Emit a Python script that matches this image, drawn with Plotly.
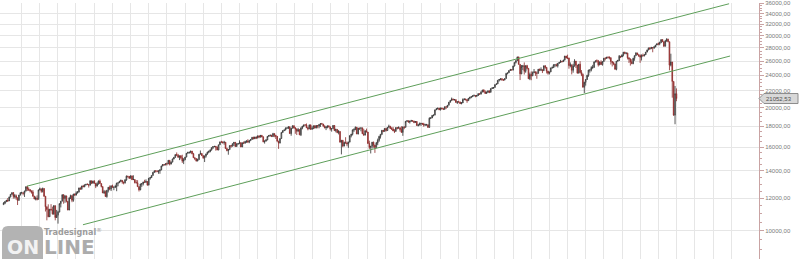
import math
import pandas as pd
import plotly.graph_objects as go

# ---------------- data (weekly candles, Dow Jones Industrial Average) ----------------
first_week = "2011-01-03"
first_open = 11577.51

closes_2011 = [11674, 11787, 11871, 11823, 12092, 12273, 12391, 12130, 12170, 12044,
               11858, 12221, 12377, 12380, 12342, 12505, 12810, 12638, 12596, 12512,
               12441, 12151, 11952, 12004, 11934, 12582, 12657, 12480, 12681, 12143,
               11444, 11269, 10817, 11284, 11240, 10992, 11509, 10771, 10913, 11103,
               11644, 11808, 12231, 11983, 12153, 11796, 11231, 12019, 12184, 11866,
               12294, 12218]
highs_2011 = [11742, 11793, 11876, 12020, 12105, 12285, 12400, 12420, 12290, 12260,
              12050, 12230, 12420, 12450, 12390, 12520, 12830, 12876, 12760, 12640,
              12550, 12570, 12160, 12120, 12200, 12600, 12750, 12660, 12750, 12690,
              12150, 11450, 11600, 11300, 11610, 11450, 11550, 11520, 11240, 11180,
              11660, 11810, 12280, 12290, 12230, 12190, 11800, 12070, 12250, 12190,
              12300, 12330]
lows_2011 = [11577, 11610, 11740, 11760, 11840, 12060, 12240, 11980, 11990, 11900,
             11555, 11850, 12200, 12320, 12200, 12090, 12470, 12500, 12500, 12400,
             12320, 12100, 11940, 11860, 11860, 11930, 12550, 12380, 12400, 12100,
             11140, 10600, 10790, 10850, 11200, 10950, 10930, 10600, 10740, 10404,
             11100, 11400, 11800, 11640, 11700, 11730, 11230, 11250, 11950, 11740,
             11770, 12170]

closes_2012 = [12360, 12422, 12720, 12660, 12862, 12801, 12950, 12983, 12978, 12922,
               13233, 13081, 13212, 13060, 12850, 13029, 13228, 13038, 12821, 12369,
               12455, 12119, 12554, 12767, 12640, 12880, 12772, 12777, 12823, 13075,
               13096, 13207, 13275, 13157, 13090, 13306, 13593, 13579, 13437, 13610,
               13328, 13343, 13107, 13093, 12815, 12588, 13010, 13026, 13155, 13135,
               13190, 12938]
highs_2012 = [12480, 12500, 12740, 12760, 12870, 12940, 12960, 13010, 13050, 12980,
              13290, 13270, 13260, 13290, 13060, 13130, 13260, 13340, 13040, 12830,
              12580, 12540, 12580, 12790, 12900, 12890, 12960, 12800, 12950, 13090,
              13110, 13240, 13330, 13290, 13170, 13370, 13650, 13610, 13580, 13660,
              13650, 13660, 13350, 13300, 13290, 12840, 13020, 13070, 13170, 13320,
              13350, 13200]
lows_2012 = [12200, 12330, 12420, 12580, 12590, 12790, 12780, 12900, 12930, 12750,
             12900, 13000, 13020, 13030, 12710, 12840, 12960, 13020, 12760, 12360,
             12300, 12100, 12040, 12400, 12560, 12500, 12740, 12560, 12710, 12490,
             12840, 13080, 13160, 13030, 12980, 13040, 13250, 13480, 13380, 13420,
             13300, 13320, 13050, 13060, 12810, 12470, 12560, 12800, 12900, 13110,
             13090, 12880]

closes_2013 = [13435, 13488, 13650, 13896, 14010, 13993, 13981, 14001, 14090, 14397,
               14515, 14512, 14579, 14565, 14865, 14547, 14712, 14974, 15118, 15354,
               15303, 15116, 15248, 15070, 14800, 14910, 15136, 15464, 15543, 15559,
               15659, 15426, 15081, 15010, 14810, 14922, 15376, 15452, 15258, 15073,
               15237, 15400, 15570, 15615, 15761, 15962, 16065, 16086, 16020, 15755,
               16221, 16479]
highs_2013 = [13460, 13510, 13660, 13900, 14020, 14010, 14030, 14020, 14100, 14410,
              14540, 14530, 14590, 14680, 14890, 14870, 14770, 15010, 15120, 15360,
              15540, 15410, 15260, 15300, 15340, 15050, 15150, 15480, 15590, 15570,
              15670, 15660, 15500, 15110, 15030, 15010, 15390, 15710, 15460, 15290,
              15260, 15430, 15600, 15710, 15800, 15980, 16070, 16100, 16090, 16070,
              16230, 16530]
lows_2013 = [12900, 13330, 13450, 13640, 13850, 13880, 13900, 13780, 13780, 14050,
             14370, 14400, 14440, 14440, 14560, 14440, 14550, 14700, 14950, 15080,
             15250, 15100, 14880, 14940, 14650, 14550, 14880, 15130, 15440, 15430,
             15460, 15380, 15070, 14880, 14760, 14780, 14930, 15380, 15230, 14990,
             14720, 15100, 15340, 15480, 15550, 15700, 15840, 16000, 15700, 15740,
             15730, 16220]

closes_2014 = [16470, 16437, 16459, 15880, 15699, 15794, 16154, 16104, 16322, 16453,
               16066, 16303, 16323, 16413, 16027, 16409, 16361, 16513, 16584, 16491,
               16607, 16717, 16924, 16776, 16948, 16852, 17068, 16944, 17100, 16961,
               16493, 16554, 16662, 17001, 17098, 17137, 16988, 17280, 17113, 17010,
               16544, 16380, 16805, 17391, 17573, 17635, 17810, 17828, 17958, 17281,
               17805, 18053]
highs_2014 = [16590, 16540, 16590, 16470, 15960, 15810, 16160, 16180, 16340, 16480,
              16460, 16360, 16370, 16630, 16460, 16420, 16530, 16590, 16600, 16740,
              16620, 16720, 16930, 16970, 16980, 16990, 17070, 17070, 17150, 17150,
              17020, 16630, 16750, 17050, 17120, 17150, 17130, 17350, 17280, 17120,
              17040, 16600, 16820, 17400, 17580, 17660, 17890, 17900, 17990, 17960,
              17810, 18100]
lows_2014 = [16420, 16320, 16230, 15870, 15640, 15340, 15790, 15960, 16060, 16100,
             16040, 16060, 16240, 16320, 16010, 16020, 16330, 16350, 16400, 16380,
             16370, 16590, 16690, 16730, 16760, 16750, 16830, 16830, 16900, 16920,
             16460, 16330, 16540, 16670, 16990, 16990, 16950, 16960, 16930, 16760,
             16540, 15855, 16360, 16800, 17350, 17520, 17600, 17780, 17730, 17270,
             17070, 17790]

closes_2015 = [17833, 17737, 17511, 17673, 17165, 17825, 18019, 18141, 18133, 17857,
               17750, 18128, 17713, 17763, 18058, 17826, 18081, 18025, 18191, 18273,
               18232, 18011, 17849, 17899, 18016, 17947, 17731, 17760, 18086, 17569,
               17690, 17373, 17477, 16460, 16643, 16102, 16433, 16385, 16315, 16472,
               17084, 17216, 17647, 17664, 17910, 17245, 17824, 17798, 17848, 17265,
               17128, 17553]
highs_2015 = [18100, 17920, 17770, 17840, 17690, 17900, 18030, 18150, 18230, 18290,
              17950, 18190, 18200, 17990, 18070, 18110, 18120, 18130, 18200, 18290,
              18350, 18240, 18110, 18050, 18100, 18130, 17960, 17790, 18130, 18120,
              17760, 17710, 17630, 17510, 16650, 16650, 16520, 16930, 16530, 16500,
              17100, 17250, 17680, 17800, 17980, 17920, 17840, 17850, 17880, 17850,
              17750, 17610]
lows_2015 = [17780, 17260, 17140, 17470, 17130, 17040, 17700, 17930, 18080, 17830,
             17600, 17720, 17630, 17680, 17740, 17790, 17820, 17800, 17800, 17940,
             18210, 17990, 17800, 17620, 17800, 17900, 17580, 17470, 17770, 17560,
             17400, 17320, 17200, 16450, 15370, 16000, 16100, 16340, 16090, 15940,
             16460, 16910, 17100, 17450, 17630, 17230, 17200, 17630, 17500, 17250,
             17100, 17140]

closes_2016 = [17425, 16347, 15988, 16094, 16466, 16205, 15974, 16392, 16640, 17007,
               17213, 17602, 17516, 17793, 17577, 17898, 18004, 17774, 17740, 17535,
               17501, 17873, 17807, 17865, 17675, 17401, 17949, 17896, 18517, 18571,
               18432, 18543, 18576, 18553, 18395, 18492, 18085, 18124, 18261, 18308,
               18240, 18138, 18145, 18161, 17888, 18847, 18868, 19152, 19171, 19757,
               19843, 19934, 19763]
highs_2016 = [17770, 17400, 16600, 16100, 16480, 16510, 16220, 16480, 16800, 17060,
              17230, 17620, 17630, 17800, 17800, 17930, 18170, 18040, 17920, 17940,
              17720, 17900, 17920, 18000, 17860, 18010, 17980, 17950, 18540, 18620,
              18600, 18560, 18670, 18620, 18560, 18540, 18540, 18260, 18390, 18350,
              18320, 18360, 18260, 18250, 18180, 18930, 18940, 19160, 19230, 19760,
              19950, 19990, 19980]
lows_2016 = [17420, 16310, 15840, 15450, 15880, 15960, 15500, 15980, 16190, 16500,
             16800, 17150, 17420, 17450, 17480, 17550, 17870, 17740, 17630, 17530,
             17330, 17470, 17690, 17790, 17470, 17350, 17060, 17710, 17900, 18470,
             18380, 18280, 18480, 18470, 18320, 18370, 18080, 17990, 18120, 18040,
             18140, 17960, 18060, 18080, 17880, 17900, 18760, 18880, 19040, 19170,
             19730, 19830, 19720]

closes_2017 = [19964, 19886, 19827, 20094, 20071, 20269, 20624, 20822, 21005, 20902,
               20914, 20596, 20663, 20656, 20453, 20547, 20940, 21006, 20896, 20804,
               21080, 21206, 21271, 21384, 21394, 21350, 21414, 21637, 21580, 21830,
               22092, 21858, 21675, 21814, 21988, 21798, 22268, 22349, 22405, 22774,
               22871, 23329, 23434, 23539, 23422, 23358, 23558, 24231, 24329, 24651,
               24754, 24719]
highs_2017 = [19999, 19980, 19890, 20130, 20120, 20290, 20630, 20840, 21170, 21000,
              21000, 20960, 20730, 20790, 20680, 20630, 21070, 21030, 21020, 21000,
              21110, 21230, 21300, 21390, 21540, 21460, 21480, 21680, 21650, 21930,
              22100, 22180, 22030, 21900, 22000, 22000, 22280, 22420, 22420, 22780,
              22900, 23330, 23490, 23560, 23600, 23470, 23560, 24330, 24340, 24670,
              24880, 24790]
lows_2017 = [19680, 19800, 19730, 19760, 19830, 20000, 20270, 20580, 20800, 20840,
             20830, 20580, 20410, 20580, 20450, 20380, 20600, 20850, 20860, 20550,
             20820, 20970, 21090, 21230, 21330, 21200, 21230, 21370, 21500, 21550,
             21820, 21800, 21600, 21600, 21720, 21700, 21800, 22240, 22230, 22400,
             22750, 22860, 23170, 23330, 23250, 23240, 23350, 23560, 24120, 24330,
             24650, 24680]

closes_2018 = [25295, 25803, 26072, 26617, 25521, 24191, 25219, 25310, 24538, 25336,
               24947, 23533, 24103, 23933, 24360, 24463, 24311, 24263, 24831, 24715,
               24753, 24635, 25317, 25090, 24581, 24271, 24456, 25019, 25058, 25451,
               25463, 25313, 25669, 25790, 25965, 25917, 26154, 26744, 26458, 26447,
               25340, 25444, 24688, 25271, 25989, 25413, 24286, 25538, 24389, 24101,
               22445, 23062]
highs_2018 = [25300, 25810, 26090, 26620, 26610, 25520, 25430, 25440, 25800, 25370,
              25450, 25010, 24360, 24530, 24520, 24860, 24520, 24530, 24860, 24920,
              25090, 24800, 25330, 25400, 25060, 24600, 24470, 25030, 25220, 25530,
              25500, 25630, 25710, 25860, 26170, 26000, 26180, 26760, 26770, 26950,
              26500, 25800, 25500, 25600, 26270, 26010, 25400, 25570, 25980, 24710,
              24250, 23140]
lows_2018 = [24660, 25220, 25650, 26010, 25490, 23360, 24150, 24720, 24100, 24340,
             24800, 23510, 23350, 23340, 23880, 24280, 23920, 23530, 24220, 24560,
             24580, 24300, 24580, 24900, 24250, 24080, 24110, 24460, 24930, 25010,
             25120, 25250, 25070, 25610, 25840, 25800, 25880, 26090, 26380, 26290,
             24900, 25100, 24120, 24350, 25200, 25000, 24260, 24270, 24250, 23880,
             22400, 21713]

closes_2019 = [23433, 23996, 24706, 24737, 25064, 25106, 25883, 26031, 26026, 25450,
               25849, 25502, 25929, 26425, 26412, 26559, 26543, 26505, 25942, 25764,
               25586, 24815, 25984, 26090, 26719, 26600, 26922, 27332, 27154, 27192,
               26485, 26287, 25886, 25629, 26403, 26797, 27220, 26935, 26820, 26573,
               26817, 26770, 26958, 27347, 27681, 28005, 27876, 28051, 28015, 28135,
               28455, 28645]
highs_2019 = [23500, 24050, 24750, 24800, 25250, 25450, 25900, 26050, 26240, 26160,
              25930, 26110, 25960, 26430, 26520, 26600, 26700, 26700, 26500, 26000,
              25900, 25600, 26000, 26170, 26900, 26760, 26970, 27340, 27400, 27300,
              27250, 26530, 26400, 26260, 26470, 26850, 27310, 27220, 27010, 27000,
              27000, 27120, 27000, 27350, 27700, 28010, 28090, 28170, 28100, 28290,
              28460, 28700]
lows_2019 = [22640, 23380, 23800, 24360, 24530, 24880, 25000, 25800, 25770, 25210,
             25400, 25470, 25330, 25940, 26100, 26310, 26350, 26250, 25500, 25220,
             25400, 24800, 24680, 25900, 26000, 26440, 26700, 26700, 27100, 27000,
             26240, 25720, 25340, 25550, 25540, 26040, 26800, 26910, 26600, 25740,
             26080, 26700, 26700, 26900, 27360, 27630, 27700, 27880, 27320, 27840,
             28150, 28500]

closes_2020 = [28635, 28824, 29348, 28990, 28256, 29103, 29398, 28992, 25409, 25865,
               23186, 19174, 21637, 21052.53]
highs_2020 = [28870, 29010, 29370, 29370, 28940, 29280, 29569, 29490, 28992, 27100,
              25865, 23190, 22595, 22290]
lows_2020 = [28420, 28420, 28800, 28940, 28170, 28260, 29000, 28900, 24681, 25230,
             21154, 19094, 18213, 20736]

# trend channel (two lines)
upper_line_dates = ["2011-04-30", "2020-12-19"]
upper_line_values = [12848, 35906]
lower_line_dates = ["2012-02-05", "2020-12-24"]
lower_line_values = [10340, 26748]

# axis ticks
ytick_values = list(range(10000, 36001, 2000))
ytick_labels = [f"{v},00" for v in ytick_values]
yminor_values = [v for v in range(8500, 36001, 500)]
quarter_lines = pd.date_range("2011-04-01", "2021-01-01", freq="QS")

# ---------------- assemble ----------------
closes = (closes_2011 + closes_2012 + closes_2013 + closes_2014 + closes_2015 +
          closes_2016 + closes_2017 + closes_2018 + closes_2019 + closes_2020)
highs = (highs_2011 + highs_2012 + highs_2013 + highs_2014 + highs_2015 +
         highs_2016 + highs_2017 + highs_2018 + highs_2019 + highs_2020)
lows = (lows_2011 + lows_2012 + lows_2013 + lows_2014 + lows_2015 +
        lows_2016 + lows_2017 + lows_2018 + lows_2019 + lows_2020)
opens = [first_open] + closes[:-1]
n = min(len(closes), len(highs), len(lows))
dates = pd.date_range(first_week, periods=n, freq="7D")

fig = go.Figure()
fig.add_trace(go.Candlestick(
    x=dates, open=opens[:n], high=highs[:n], low=lows[:n], close=closes[:n],
    increasing=dict(line=dict(color="#2e2e2e", width=0.8), fillcolor="#ffffff"),
    decreasing=dict(line=dict(color="#8a2b2b", width=0.8), fillcolor="#cc3a3a"),
    whiskerwidth=0, showlegend=False, hoverinfo="skip"))

line_color = "#5e9f5a"
fig.add_trace(go.Scatter(x=upper_line_dates, y=upper_line_values, mode="lines",
                         line=dict(color=line_color, width=1), showlegend=False, hoverinfo="skip"))
fig.add_trace(go.Scatter(x=lower_line_dates, y=lower_line_values, mode="lines",
                         line=dict(color=line_color, width=1), showlegend=False, hoverinfo="skip"))

y_lo, y_hi = 3.9307, 4.5570
axis_col = "#c9a3a3"
grid_col = "#e6e6e6"
tick_font = dict(family="Liberation Sans, Arial, sans-serif", size=6, color="#7a7a7a")

fig.update_layout(
    width=800, height=259,
    margin=dict(l=0, r=41, t=0, b=0),
    paper_bgcolor="white", plot_bgcolor="white",
    showlegend=False,
    xaxis=dict(type="date", range=["2010-12-16", "2021-05-18"],
               tickmode="array", tickvals=quarter_lines, showticklabels=False, ticks="",
               showgrid=True, gridcolor=grid_col, gridwidth=1,
               zeroline=False, showline=False, rangeslider=dict(visible=False)),
    yaxis=dict(type="log", side="right", range=[y_lo, y_hi],
               tickmode="array", tickvals=ytick_values, ticktext=ytick_labels,
               ticks="outside", ticklen=4, tickwidth=1, tickcolor=axis_col,
               showline=True, linecolor=axis_col, linewidth=1,
               showgrid=True, gridcolor=grid_col, gridwidth=1, zeroline=False,
               tickfont=tick_font, ticklabeloverflow="allow",
               minor=dict(tickmode="array", tickvals=yminor_values, ticks="outside",
                          ticklen=2, tickwidth=1, tickcolor=axis_col, showgrid=False)),
)

# last-price tag on the axis
last_price = closes[n - 1]
frac = (math.log10(last_price) - y_lo) / (y_hi - y_lo)
fig.add_shape(type="path", xref="paper", yref="paper", xsizemode="pixel", ysizemode="pixel",
              xanchor=1, yanchor=frac, path="M0,0 L5,5 L39,5 L39,-5 L5,-5 Z",
              fillcolor="#d8d8d8", line=dict(color="#8c8c8c", width=1), layer="above")
fig.add_annotation(x=1, y=frac, xref="paper", yref="paper", xanchor="left", yanchor="middle",
                   xshift=5, text=f"{last_price:.2f}".replace(".", ","), showarrow=False,
                   font=dict(family="Liberation Sans, Arial, sans-serif", size=6, color="#505050"))

# Tradesignal Online logo
fig.add_shape(type="path", xref="paper", yref="paper", xsizemode="pixel", ysizemode="pixel",
              xanchor=0, yanchor=0, path="M2,-3 L2,27 Q2,33 8,33 L37,33 Q43,33 43,27 L43,-3 Z",
              fillcolor="#b3b3b3", line=dict(width=0), layer="above")
fig.add_annotation(x=0, y=0, xref="paper", yref="paper", xanchor="center", yanchor="middle",
                   xshift=23, yshift=12, text="<b>ON</b>", showarrow=False,
                   font=dict(family="DejaVu Sans", size=19, color="#f2f2f2"))
fig.add_annotation(x=0, y=0, xref="paper", yref="paper", xanchor="left", yanchor="middle",
                   xshift=42, yshift=12, text="<b>LINE</b>", showarrow=False,
                   font=dict(family="DejaVu Sans", size=20, color="#acacac"))
fig.add_annotation(x=0, y=0, xref="paper", yref="paper", xanchor="left", yanchor="middle",
                   xshift=42, yshift=27, text="<b>Tradesignal</b><sup>®</sup>", showarrow=False,
                   font=dict(family="DejaVu Sans", size=8, color="#9c9c9c"))

fig.write_html("out.html")
